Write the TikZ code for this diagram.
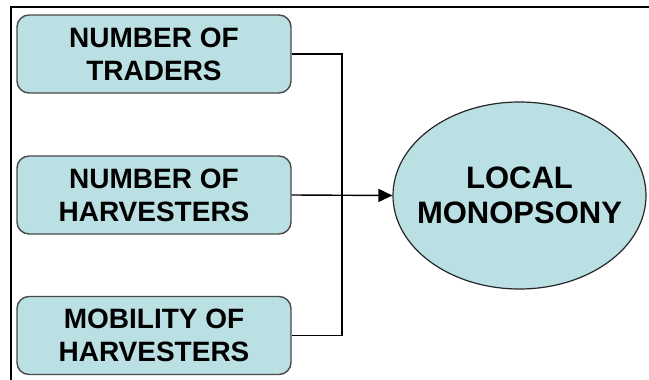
\documentclass[tikz,border=0pt]{standalone}
\usepackage{fontspec}
\setmainfont{Liberation Sans}
\usetikzlibrary{shapes.geometric,arrows.meta}
\definecolor{paleteal}{HTML}{BBE0E4}
\definecolor{edgegray}{HTML}{4A4A4A}
\tikzset{
  factorbox/.style={draw=edgegray, line width=1.4pt, fill=paleteal,
    rounded corners=12pt, minimum width=274pt, minimum height=78pt,
    inner sep=0pt, align=center,
    font=\bfseries\fontsize{28}{33}\selectfont},
  outcome/.style={ellipse, draw=black!85, line width=1.2pt, fill=paleteal,
    minimum width=253pt, minimum height=187pt, inner sep=0pt},
  outcometext/.style={align=center, inner sep=0pt,
    font=\bfseries\fontsize{31}{35}\selectfont},
  link/.style={draw=black, line width=1.4pt},
  frameline/.style={draw=black, line width=2pt}
}
\begin{document}
\begin{tikzpicture}[x=1pt, y=-1pt]
  \useasboundingbox (0,0) rectangle (649,380);

  % partial frame along the top and left
  \draw[frameline] (10,7) -- (649,7);
  \draw[frameline] (11,6) -- (11,380);

  % three factor boxes and the outcome oval
  \node[factorbox] (traders)    at (154,54)    {NUMBER OF\\TRADERS};
  \node[factorbox] (harvesters) at (154,195)   {NUMBER OF\\HARVESTERS};
  \node[factorbox] (mobility)   at (154,335.5) {MOBILITY OF\\HARVESTERS};
  \node[outcome]   (monopsony)  at (519.5,195.5) {};
  \node[outcometext] (monopsonyText) at (monopsony.center) {LOCAL\\MONOPSONY};

  % bracket joining the top and bottom boxes
  \coordinate (joinTop) at (342,54);
  \coordinate (joinBot) at (342,335.5);
  \draw[link] (traders.east) -- (joinTop) -- (joinBot) -- (mobility.east);

  % arrow from the middle box into the oval
  \draw[link, -{Triangle[length=14pt,width=13pt]}] (harvesters.east) -- (monopsony.west);
\end{tikzpicture}
\end{document}
